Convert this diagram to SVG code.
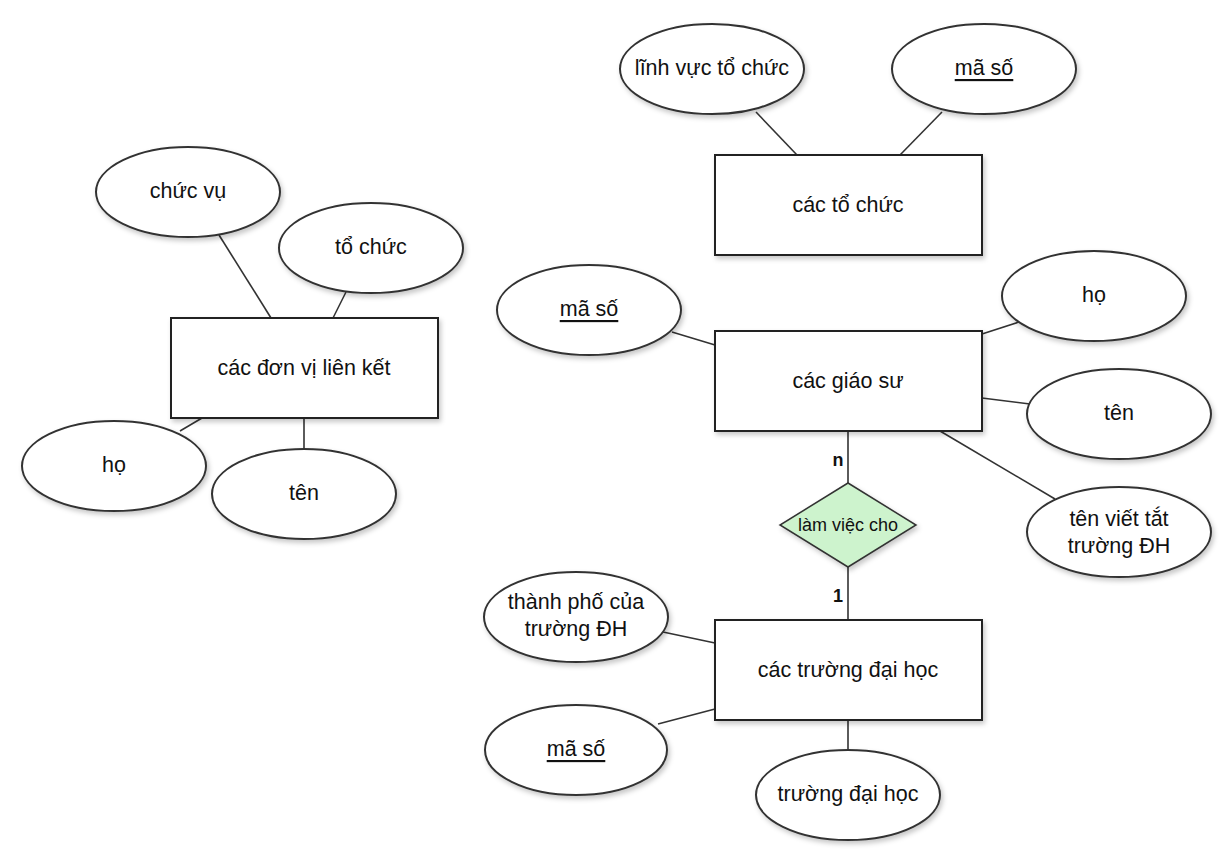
<svg xmlns="http://www.w3.org/2000/svg" width="1232" height="864" viewBox="0 0 1232 864">
<defs>
<filter id="sh" x="-10%" y="-10%" width="125%" height="130%">
<feDropShadow dx="2" dy="3" stdDeviation="2.5" flood-color="#000" flood-opacity="0.22"/>
</filter>
<style>
.e{fill:#fff;stroke:#333;stroke-width:2;filter:url(#sh)}
.r{fill:#fff;stroke:#222;stroke-width:2;filter:url(#sh)}
.d{fill:#cdf3cd;stroke:#333;stroke-width:1.5;filter:url(#sh)}
.t{font-family:"Liberation Sans",Arial,sans-serif;font-size:21.5px;fill:#111;text-anchor:middle;dominant-baseline:central}
.s{font-size:18px}
.u{text-decoration:underline}
.c line{stroke:#333;stroke-width:1.6}
.b{font-family:"Liberation Sans",Arial,sans-serif;font-size:18px;font-weight:bold;fill:#111;text-anchor:middle;dominant-baseline:central}
</style>
</defs>
<rect width="1232" height="864" fill="#fff"/>
<g class="c" id="connectors">
<line x1="219" y1="235" x2="271" y2="318"/>
<line x1="346" y1="292" x2="333" y2="318"/>
<line x1="180" y1="431" x2="202" y2="418"/>
<line x1="304" y1="418" x2="304" y2="449"/>
<line x1="756" y1="112" x2="797" y2="155"/>
<line x1="942" y1="112" x2="900" y2="155"/>
<line x1="672" y1="332" x2="715" y2="345"/>
<line x1="1019" y1="322" x2="982" y2="334"/>
<line x1="982" y1="398" x2="1030" y2="404"/>
<line x1="940" y1="431" x2="1055" y2="499"/>
<line x1="848" y1="431" x2="848" y2="483"/>
<line x1="848" y1="567" x2="848" y2="620"/>
<line x1="663" y1="632" x2="715" y2="643"/>
<line x1="658" y1="724" x2="715" y2="709"/>
<line x1="848" y1="720" x2="848" y2="750"/>
</g>
<text class="b" x="838" y="460">n</text>
<text class="b" x="838" y="596">1</text>
<g id="chuc-vu"><ellipse class="e" cx="188" cy="192" rx="92" ry="45"/><text class="t" x="188" y="191">chức vụ</text></g>
<g id="to-chuc"><ellipse class="e" cx="371" cy="248" rx="92" ry="45"/><text class="t" x="371" y="247">tổ chức</text></g>
<g id="don-vi"><rect class="r" x="171" y="318" width="267" height="100"/><text class="t" x="304" y="368">các đơn vị liên kết</text></g>
<g id="ho-left"><ellipse class="e" cx="114" cy="466" rx="92" ry="45"/><text class="t" x="114" y="465">họ</text></g>
<g id="ten-left"><ellipse class="e" cx="304" cy="494" rx="92" ry="45"/><text class="t" x="304" y="493">tên</text></g>
<g id="linh-vuc"><ellipse class="e" cx="712" cy="69" rx="92" ry="45"/><text class="t" x="712" y="68">lĩnh vực tổ chức</text></g>
<g id="ma-so-tc"><ellipse class="e" cx="984" cy="69" rx="92" ry="45"/><text class="t u" x="984" y="68">mã số</text></g>
<g id="cac-to-chuc"><rect class="r" x="715" y="155" width="267" height="100"/><text class="t" x="848" y="205">các tổ chức</text></g>
<g id="ma-so-gs"><ellipse class="e" cx="589" cy="310" rx="92" ry="45"/><text class="t u" x="589" y="309">mã số</text></g>
<g id="ho-gs"><ellipse class="e" cx="1094" cy="296" rx="92" ry="45"/><text class="t" x="1094" y="295">họ</text></g>
<g id="giao-su"><rect class="r" x="715" y="331" width="267" height="100"/><text class="t" x="848" y="381">các giáo sư</text></g>
<g id="ten-gs"><ellipse class="e" cx="1119" cy="414" rx="92" ry="45"/><text class="t" x="1119" y="413">tên</text></g>
<g id="ten-viet-tat"><ellipse class="e" cx="1119" cy="532" rx="92" ry="45"/><text class="t" x="1119" y="519">tên viết tắt</text><text class="t" x="1119" y="546">trường ĐH</text></g>
<g id="lam-viec-cho"><polygon class="d" points="848,483 916,525 848,567 780,525"/><text class="t s" x="848" y="525">làm việc cho</text></g>
<g id="thanh-pho"><ellipse class="e" cx="576" cy="617" rx="92" ry="45"/><text class="t" x="576" y="602">thành phố của</text><text class="t" x="576" y="629">trường ĐH</text></g>
<g id="truong-dh"><rect class="r" x="715" y="620" width="267" height="100"/><text class="t" x="848" y="670">các trường đại học</text></g>
<g id="ma-so-dh"><ellipse class="e" cx="576" cy="750" rx="91" ry="45"/><text class="t u" x="576" y="749">mã số</text></g>
<g id="ten-truong"><ellipse class="e" cx="848" cy="795" rx="92" ry="45"/><text class="t" x="848" y="794">trường đại học</text></g>
</svg>
